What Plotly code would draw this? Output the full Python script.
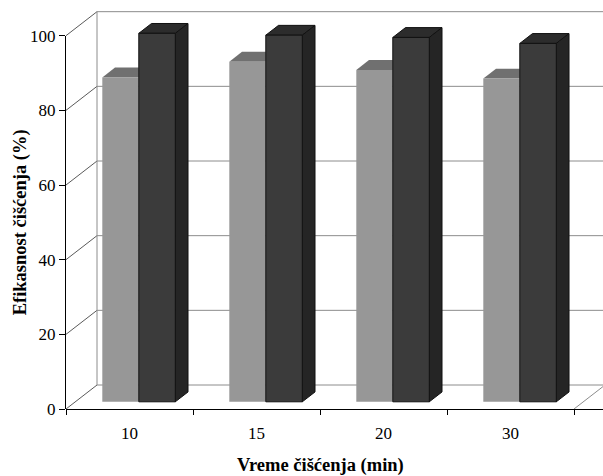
import plotly.graph_objects as go

# Cleaning time categories and cleaning efficiency (%) for the two series
categories = ["10", "15", "20", "30"]
series_light = [86.9, 91.1, 88.9, 86.6]
series_dark = [98.7, 98.2, 97.6, 96.0]
y_ticks = [0, 20, 40, 60, 80, 100]

# Oblique 3D projection: full depth of the floor in axis units
DEPTH_X = 0.2441   # category units
DEPTH_Y = 6.43     # value units
BAR_FRONT = 0.30   # depth fraction of the bars' front face
BAR_DEPTH = 0.41   # depth fraction occupied by a bar
BAR_W = 0.2874     # width of one bar (category units)
Y_TOP = 106.88
X_LO, X_HI = -0.5, 3.7283
PLOT_W = 537       # plot area width in pixels (for paper-relative title placement)

ox, oy = BAR_FRONT * DEPTH_X, BAR_FRONT * DEPTH_Y
ddx, ddy = BAR_DEPTH * DEPTH_X, BAR_DEPTH * DEPTH_Y

LIGHT_FRONT, LIGHT_TOP = "#979797", "#707070"
DARK_FRONT, DARK_TOP, DARK_SIDE = "#3b3b3b", "#2c2c2c", "#252525"
GRID = "#8c8c8c"
DIAG = "#5a5a5a"
FONT = "Liberation Serif"

shapes = []


def line(x0, y0, x1, y1, color, width=1):
    shapes.append(dict(type="line", xref="x", yref="y", x0=x0, y0=y0, x1=x1, y1=y1,
                       line=dict(color=color, width=width), layer="below"))


def poly(pts, fill, outline=None):
    path = "M " + " L ".join(f"{x},{y}" for x, y in pts) + " Z"
    shapes.append(dict(type="path", xref="x", yref="y", path=path, fillcolor=fill,
                       line=dict(color=outline or fill, width=1 if outline else 0),
                       layer="below"))


# back wall: gridlines, left wall diagonals
x_front_l, x_front_r = -0.5, len(categories) - 0.5
for v in y_ticks:
    line(x_front_l + DEPTH_X, v + DEPTH_Y, x_front_r + DEPTH_X, v + DEPTH_Y, GRID)
    line(x_front_l, v, x_front_l + DEPTH_X, v + DEPTH_Y, DIAG)
line(x_front_l + DEPTH_X, DEPTH_Y, x_front_l + DEPTH_X, y_ticks[-1] + DEPTH_Y, GRID)
# floor right edge
line(x_front_r, 0, x_front_r + DEPTH_X, DEPTH_Y, GRID)

# tops and sides of the columns
for i, (a, b) in enumerate(zip(series_light, series_dark)):
    # light column top (its back-right part sits behind the dark column)
    l0 = i + ox - BAR_W
    t = oy + a
    poly([(l0, t), (l0 + BAR_W, t), (l0 + BAR_W, t + ddy), (l0 + ddx, t + ddy)], LIGHT_TOP)
    # dark column top and side
    d0 = i + ox
    d1 = d0 + BAR_W
    t = oy + b
    poly([(d0, t), (d1, t), (d1 + ddx, t + ddy), (d0 + ddx, t + ddy)], DARK_TOP, "#111111")
    poly([(d1, oy), (d1 + ddx, oy + ddy), (d1 + ddx, t + ddy), (d1, t)], DARK_SIDE, "#111111")

fig = go.Figure()
fig.add_trace(go.Bar(x=categories, y=series_light, base=oy, width=BAR_W, offset=ox - BAR_W,
                     marker=dict(color=LIGHT_FRONT, line=dict(width=0)),
                     showlegend=False, hoverinfo="skip"))
fig.add_trace(go.Bar(x=categories, y=series_dark, base=oy, width=BAR_W, offset=ox,
                     marker=dict(color=DARK_FRONT, line=dict(color="#111111", width=1)),
                     showlegend=False, hoverinfo="skip"))
# carrier for the front value axis
fig.add_trace(go.Scatter(x=[], y=[], yaxis="y2", showlegend=False, hoverinfo="skip"))

title_font = dict(family=FONT, size=18.5, color="black")

fig.update_layout(
    width=603, height=476,
    margin=dict(l=66, r=0, t=10, b=67),
    paper_bgcolor="white", plot_bgcolor="rgba(0,0,0,0)",
    barmode="overlay",
    shapes=shapes,
    font=dict(family=FONT, size=17, color="black"),
    xaxis=dict(
        type="category", range=[X_LO, X_HI], tickson="boundaries",
        ticks="outside", ticklen=5, tickcolor="black",
        showline=True, linecolor="black", linewidth=1,
        showgrid=False, zeroline=False,
        tickfont=dict(family=FONT, size=17, color="black"),
        ticklabelstandoff=9,
    ),
    yaxis=dict(
        range=[0, Y_TOP], showgrid=False, zeroline=False, showline=False,
        showticklabels=False, ticks="",
    ),
    yaxis2=dict(
        domain=[0, 100 / Y_TOP], range=[0, 100], anchor="x", side="left",
        tickvals=y_ticks, ticks="outside", ticklen=6, tickcolor="black",
        showline=True, linecolor="black", linewidth=1,
        showgrid=False, zeroline=False,
        tickfont=dict(family=FONT, size=17, color="black"),
    ),
    annotations=[
        dict(text="<b>Vreme čišćenja (min)</b>", xref="x", yref="paper",
             x=(x_front_l + x_front_r) / 2, y=-0.1404, xanchor="center", yanchor="middle",
             showarrow=False, font=title_font),
        dict(text="<b>Efikasnost čišćenja (%)</b>", xref="paper", yref="y2",
             x=-46 / PLOT_W, y=50, xanchor="center", yanchor="middle", textangle=-90,
             showarrow=False, font=title_font),
    ],
)

fig.write_html("out.html")
